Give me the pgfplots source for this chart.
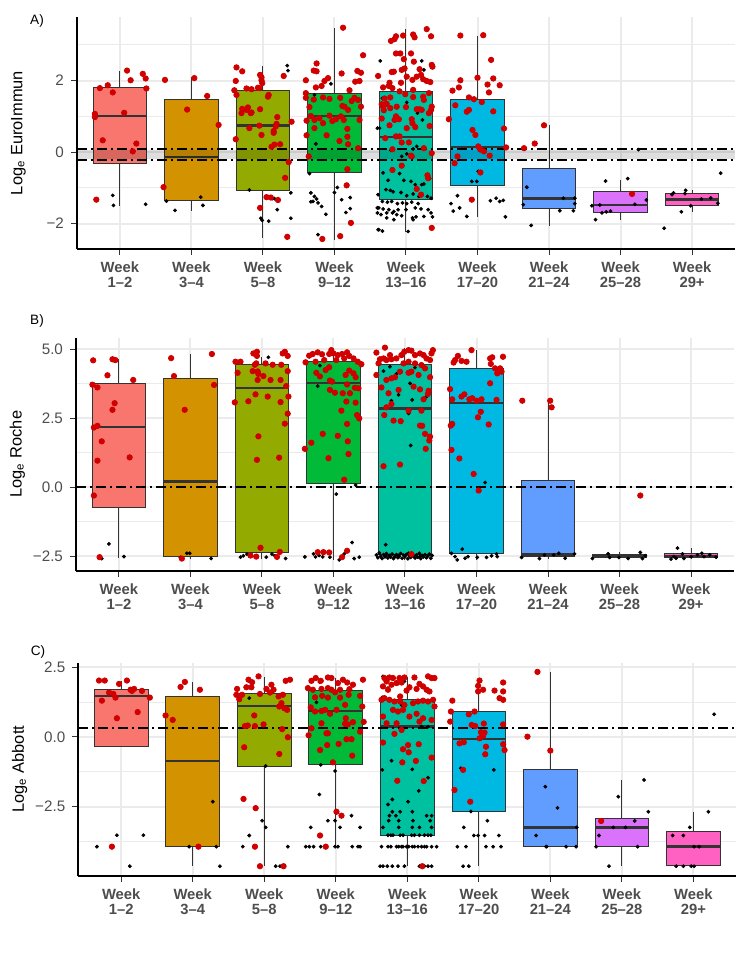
\documentclass[border=0pt]{standalone}
\usepackage{fontspec}
\setmainfont{Liberation Sans}
\usepackage{pgfplots}
\pgfplotsset{compat=1.18}
\usepgfplotslibrary{statistics}

\definecolor{c1}{HTML}{F8766D}
\definecolor{c2}{HTML}{D39200}
\definecolor{c3}{HTML}{93AA00}
\definecolor{c4}{HTML}{00BA38}
\definecolor{c5}{HTML}{00C19F}
\definecolor{c6}{HTML}{00B9E3}
\definecolor{c7}{HTML}{619CFF}
\definecolor{c8}{HTML}{DB72FB}
\definecolor{c9}{HTML}{FF61C3}
\definecolor{boxline}{HTML}{333333}
\definecolor{gridgrey}{HTML}{EBEBEB}
\definecolor{tickgrey}{HTML}{4D4D4D}
\definecolor{ptred}{HTML}{D00000}

% one box: position, lower whisker, q1, median, q3, upper whisker, colour
\newcommand{\bx}[7]{\addplot[boxplot prepared={draw position=#1, lower whisker=#2,
  lower quartile=#3, median=#4, upper quartile=#5, upper whisker=#6,
  box extend=0.75, whisker extend=0, draw direction=y,
  every median/.style={line width=1.2pt}}, draw=boxline, line width=0.5pt, fill=#7] coordinates {};}

\pgfplotsset{
  panel/.style={
    scale only axis, width=329pt,
    xmin=0.4, xmax=9.6,
    axis x line*=bottom, axis y line*=left,
    axis line style={line width=1pt, black, -},
    xtick={1,...,9},
    xticklabels={{Week\\1–2},{Week\\3–4},{Week\\5–8},{Week\\9–12},{Week\\13–16},
      {Week\\17–20},{Week\\21–24},{Week\\25–28},{Week\\29+}},
    xticklabel style={align=center, font=\fontsize{7.4}{7.6}\selectfont\bfseries, text=tickgrey},
    yticklabel style={font=\fontsize{7.6}{8}\selectfont, text=tickgrey},
    tick align=outside, major tick length=3pt, minor tick length=0pt,
    tick style={black!80, line width=0.5pt},
    grid=both,
    major grid style={draw=gridgrey, line width=1pt},
    minor grid style={draw=gridgrey, line width=0.5pt},
    ylabel style={font=\fontsize{8.2}{9}\selectfont, at={(axis description cs:-0.089,0.5)}, anchor=center},
    clip=false,
  },
  ddash/.style={black, line width=0.85pt, dash pattern=on 5pt off 2pt on 1pt off 2pt},
  redpt/.style={only marks, mark=*, mark size=1.35pt, color=ptred, mark options={draw=none}},
  blkpt/.style={only marks, mark=*, mark size=0.8pt, color=black, mark options={line width=0.3pt}},
}

\begin{document}
\begin{tikzpicture}
\path[use as bounding box] (0,0) rectangle (375pt,487.5pt);

% ---------------- A) EuroImmun
\begin{axis}[panel, at={(38.5pt,363pt)}, anchor=south west, height=116pt,
  ymin=-2.71, ymax=3.78, ytick={-2,0,2}, yticklabels={−2,0,2}, minor ytick={-1,1,3},
  ylabel={Log\textsubscript{e} EuroImmun}]
\bx{1}{-1.50}{-0.32}{1.01}{1.80}{2.27}{c1}
\bx{2}{-1.64}{-1.35}{-0.14}{1.47}{2.09}{c2}
\bx{3}{-2.39}{-1.07}{0.75}{1.73}{2.41}{c3}
\bx{4}{-2.45}{-0.58}{1.01}{1.63}{3.46}{c4}
\bx{5}{-2.23}{-1.33}{0.42}{1.70}{3.44}{c5}
\bx{6}{-1.82}{-0.94}{0.14}{1.47}{3.25}{c6}
\bx{7}{-2.06}{-1.58}{-1.30}{-0.45}{0.75}{c7}
\bx{8}{-1.90}{-1.69}{-1.48}{-1.09}{-0.78}{c8}
\bx{9}{-1.67}{-1.49}{-1.32}{-1.16}{-1.06}{c9}
\addplot[black, opacity=0.13, line width=4.8pt] coordinates {(0.4,-0.065) (9.6,-0.065)};
\addplot[ddash] coordinates {(0.4,0.09) (9.6,0.09)};
\addplot[ddash] coordinates {(0.4,-0.22) (9.6,-0.22)};
\addplot[blkpt] coordinates {
 (0.90,-1.21) (0.91,-1.49) (1.36,-1.46)
 (1.65,-1.37) (1.77,-1.63) (2.13,-1.26) (2.16,-1.49)
 (2.81,-1.06) (2.97,-1.85) (2.99,-1.91) (3.08,-1.93) (3.13,-1.30) (3.19,-1.34) (3.20,-1.61)
 (3.39,-1.14) (3.39,-1.85) (3.34,2.42) (3.35,2.28) (3.16,-1.30)
 (3.72,1.60) (3.95,1.91) (3.74,0.23) (3.65,-0.60) (3.67,-1.14) (3.70,-1.38) (3.72,-1.24)
 (3.75,-1.31) (3.77,-1.42) (3.82,-1.52) (3.88,-1.74) (4.00,-1.13) (4.04,-0.99) (4.10,-1.33)
 (4.18,-0.91) (4.22,-1.27) (4.22,-1.58) (4.16,-1.69) (3.77,-2.31) (3.67,-1.39)
 (4.64,2.55) (5.22,2.55) (5.25,2.30) (4.67,1.51) (5.01,1.39) (5.16,1.09) (5.23,0.90)
 (4.63,0.67) (5.15,0.16) (5.25,0.13) (5.10,0.09) (4.79,0.05) (5.01,-0.05) (4.94,-0.12)
 (4.68,-0.58) (4.91,-0.60) (4.75,-0.79) (4.97,-0.79) (5.07,-0.82) (5.13,-0.91) (5.22,-0.91)
 (5.25,-0.89) (5.33,-0.74) (4.72,-1.05) (4.78,-1.07) (4.82,-1.11) (4.93,-1.13) (5.01,-1.22)
 (5.10,-1.17) (5.18,-1.24) (5.30,-1.24) (5.35,-1.29) (4.67,-1.38) (4.74,-1.40) (4.80,-1.38)
 (4.88,-1.44) (4.95,-1.42) (5.01,-1.44) (5.08,-1.40) (5.17,-1.44) (4.62,-1.56) (4.68,-1.59)
 (4.76,-1.61) (4.83,-1.66) (4.89,-1.61) (5.00,-1.61) (5.13,-1.56) (5.21,-1.59) (5.31,-1.61)
 (5.35,-1.70) (4.60,-1.70) (4.65,-1.75) (4.73,-1.70) (4.81,-1.70) (4.87,-1.75) (4.94,-1.78)
 (5.09,-1.84) (5.14,-1.81) (5.25,-1.80) (5.37,-1.81) (4.61,-2.17) (4.67,-2.21) (5.03,-2.22)
 (4.83,-1.89) (5.10,-1.89) (4.73,-1.84) (4.60,0.67) (4.61,-1.19) (4.60,-1.56) (4.62,-2.17)
 (6.01,-0.54) (5.92,-0.82) (5.99,-0.82) (5.72,-1.22) (5.63,-1.44) (5.75,-1.56) (5.66,-1.65)
 (5.85,-1.80) (6.18,-1.36) (6.26,-1.29) (6.31,-1.38) (6.36,-1.35) (6.39,-1.81)
 (6.69,-0.98) (6.64,-1.47) (6.75,-2.05) (7.15,-1.64) (7.20,-1.29) (7.34,-1.64) (7.36,-1.44) (7.36,-1.29)
 (7.79,-0.81) (8.10,-0.74) (8.25,0.07) (7.60,-1.50) (7.71,-1.48) (7.65,-1.89) (7.74,-1.70)
 (7.80,-1.67) (7.86,-1.65) (8.20,-1.46) (8.36,-1.34)
 (8.74,-1.14) (8.90,-1.16) (8.91,-1.07) (9.13,-1.31) (9.26,-1.28) (9.36,-1.43) (8.85,-1.67)
 (8.98,-1.50) (8.61,-2.13) (9.40,-0.59) (8.72,-1.19)
};
\addplot[redpt] coordinates {
 (0.72,1.79) (0.83,1.87) (0.90,1.67) (1.10,2.28) (1.15,2.01) (1.32,2.19) (1.36,2.06) (1.37,1.78)
 (0.65,1.07) (0.65,0.98) (0.76,0.33) (1.06,1.10) (1.23,0.24) (1.18,0.02) (0.67,-1.33)
 (1.63,2.02) (2.04,2.07) (2.22,1.57) (1.94,1.19) (2.38,0.76) (1.61,-0.98)
 (2.63,2.37) (2.71,2.26) (2.62,1.99) (2.60,1.73) (2.63,1.60) (2.77,1.78) (2.84,1.76) (2.93,1.80)
 (2.96,2.16) (2.98,2.09) (2.98,2.01) (2.99,1.93) (2.95,1.79) (3.07,1.55) (3.08,1.60) (3.29,2.13)
 (2.71,1.21) (2.77,1.18) (2.79,1.25) (2.84,1.11) (2.81,0.67) (2.83,1.09) (2.96,1.20) (2.95,0.74)
 (2.98,0.48) (3.12,0.15) (3.16,0.21) (3.24,0.22) (3.19,0.79) (3.20,0.98) (3.18,0.72) (3.15,0.59)
 (3.15,0.54) (3.36,-0.28) (3.31,-0.72) (3.40,0.85) (2.62,0.36) (2.96,-1.56) (3.05,-1.26)
 (3.11,-1.27) (3.21,-1.34) (3.34,-2.37) (2.70,1.09)
 (4.12,3.48) (3.75,2.48) (3.71,2.28) (3.75,2.26) (3.60,2.01) (4.10,2.20) (4.40,2.71) (4.32,2.27)
 (4.37,2.22) (4.35,1.99) (4.29,1.97) (3.86,1.99) (3.91,2.07) (3.82,1.85) (3.74,1.81) (3.60,1.65)
 (3.60,1.52) (3.71,1.47) (3.84,1.53) (3.93,1.49) (4.08,1.52) (4.21,1.73) (4.24,1.43) (4.28,1.52)
 (4.33,1.46) (4.37,1.27) (4.14,1.27) (4.19,1.18) (4.11,1.29) (3.65,1.26) (3.67,1.01) (3.79,0.95)
 (3.72,0.90) (3.61,0.88) (3.93,1.02) (4.02,0.92) (4.09,1.00) (4.13,0.90) (4.35,0.90) (3.72,0.67)
 (3.84,0.81) (3.97,0.87) (4.18,0.65) (3.61,0.47) (3.89,0.47) (4.07,0.31) (4.18,0.43) (4.19,0.22)
 (3.64,-0.12) (4.18,-0.48) (4.17,-0.93) (4.23,-1.98) (3.83,-2.43) (4.08,-2.35) (4.33,0.11)
 (5.29,3.44) (5.10,3.29) (5.12,3.21) (4.96,3.26) (4.86,3.24) (4.79,3.11) (4.84,3.16) (5.35,3.24)
 (4.86,2.76) (4.92,2.76) (5.07,2.76) (4.97,2.60) (5.11,2.53) (5.36,2.44) (5.37,2.39) (4.83,2.25)
 (4.80,2.24) (4.94,2.30) (4.98,2.34) (5.19,2.32) (5.21,2.16) (5.24,2.04) (5.29,1.99) (5.34,1.96)
 (5.01,2.11) (5.15,2.11) (5.09,2.02) (4.93,1.94) (4.77,1.94) (4.76,1.85) (4.81,1.79) (4.68,1.81)
 (4.70,1.50) (4.66,1.34) (4.68,1.27) (4.73,1.35) (4.78,1.53) (4.91,1.70) (4.99,1.62) (5.10,1.74)
 (5.10,1.54) (5.24,1.55) (5.25,1.46) (5.32,1.65) (5.36,1.27) (5.35,1.18) (5.32,1.09) (5.19,1.20)
 (5.22,1.18) (5.15,1.20) (5.00,1.26) (4.87,1.27) (4.78,1.23) (4.69,1.17) (4.66,0.94) (4.86,1.00)
 (4.90,0.92) (4.84,0.90) (5.08,0.92) (5.09,0.81) (4.77,0.75) (5.01,0.67) (5.13,0.70) (5.33,0.73)
 (4.91,0.44) (4.71,0.39) (4.86,0.44) (4.61,2.13) (4.94,0.27) (4.81,0.08) (5.04,0.27) (5.25,0.11)
 (5.36,-0.03) (5.07,-0.10) (5.08,-0.12) (4.81,-0.50) (4.94,-0.38) (5.30,-0.65) (5.31,-0.73)
 (5.15,-1.03) (5.36,-2.12) (5.21,-1.19)
 (5.76,3.26) (6.08,3.27) (6.19,2.58) (6.00,2.08) (5.76,2.01) (5.74,1.81) (5.65,1.72) (6.22,2.06)
 (6.31,1.87) (6.14,1.89) (6.16,1.67) (5.88,1.53) (5.95,1.48) (6.06,1.40) (5.69,1.31) (5.85,1.13)
 (5.88,1.18) (6.22,1.14) (5.60,0.92) (5.93,0.62) (5.97,0.48) (6.37,0.66) (6.01,0.16) (6.04,0.07)
 (6.09,0.02) (6.17,-0.10) (6.40,0.13) (5.72,-0.12) (5.68,-0.31) (6.04,-0.57) (5.92,-1.33)
 (6.65,0.11) (6.80,0.24) (6.93,0.75)
 (8.16,-1.17)
};
\end{axis}

% ---------------- B) Roche
\begin{axis}[panel, at={(38pt,202.15pt)}, anchor=south west, height=116.5pt,
  ymin=-3.02, ymax=5.41, ytick={-2.5,0,2.5,5}, yticklabels={−2.5,0.0,2.5,5.0},
  minor ytick={-1.25,1.25,3.75}, ylabel={Log\textsubscript{e} Roche}]
\bx{1}{-2.57}{-0.74}{2.18}{3.74}{4.63}{c1}
\bx{2}{-2.60}{-2.52}{0.20}{3.95}{4.82}{c2}
\bx{3}{-2.60}{-2.35}{3.60}{4.43}{4.72}{c3}
\bx{4}{-2.65}{0.14}{3.78}{4.54}{4.96}{c4}
\bx{5}{-2.62}{-2.44}{2.85}{4.44}{5.05}{c5}
\bx{6}{-2.63}{-2.38}{3.04}{4.28}{4.96}{c6}
\bx{7}{-2.58}{-2.50}{-2.44}{0.26}{3.15}{c7}
\bx{8}{-2.60}{-2.56}{-2.50}{-2.42}{-2.36}{c8}
\bx{9}{-2.60}{-2.56}{-2.50}{-2.38}{-2.20}{c9}
\addplot[ddash] coordinates {(0.4,0) (9.6,0)};
\addplot[blkpt] coordinates {
 (0.86,-2.05) (0.76,-2.58) (1.07,-2.51)
 (1.86,-2.54) (1.95,-2.39) (1.99,-2.39) (2.29,-2.58)
 (3.09,4.70) (2.70,-2.53) (2.74,-2.48) (2.79,-2.42) (3.06,-2.53) (3.14,-2.42) (3.18,-2.48) (3.33,-2.58)
 (3.81,4.40) (3.78,3.66) (4.31,0.08) (4.04,-0.25) (3.60,-2.52) (3.72,-2.41) (3.75,-2.52) (3.80,-2.47)
 (3.85,-2.52) (3.95,-2.53) (4.08,-2.63) (4.15,-2.41) (4.26,-2.00) (4.29,-2.58) (4.36,-2.53)
 (4.70,4.20) (4.79,4.36) (4.88,4.10) (5.07,3.76) (5.14,4.33) (4.81,3.13) (4.91,3.34) (5.10,3.16)
 (5.30,3.28) (5.08,1.51) (5.05,2.67) (4.73,-2.08)
 (4.60,-2.45) (4.62,-2.55) (4.64,-2.38) (4.66,-2.50) (4.68,-2.58) (4.70,-2.44) (4.72,-2.52)
 (4.74,-2.40) (4.76,-2.56) (4.78,-2.47) (4.80,-2.53) (4.82,-2.42) (4.84,-2.58) (4.86,-2.49)
 (4.88,-2.44) (4.90,-2.55) (4.92,-2.51) (4.94,-2.40) (4.96,-2.57) (4.98,-2.46) (5.00,-2.52)
 (5.02,-2.43) (5.04,-2.59) (5.06,-2.48) (5.08,-2.54) (5.10,-2.41) (5.12,-2.50) (5.14,-2.56)
 (5.16,-2.45) (5.18,-2.53) (5.20,-2.39) (5.22,-2.58) (5.24,-2.47) (5.26,-2.52) (5.28,-2.44)
 (5.30,-2.55) (5.32,-2.49) (5.34,-2.42) (5.36,-2.57) (5.38,-2.47) (4.73,-2.47) (4.91,-2.47)
 (5.05,-2.39) (5.21,-2.50) (4.85,-2.53)
 (6.12,0.17) (5.80,-2.24) (5.73,-2.63) (5.84,-2.57) (6.01,-2.54) (6.14,-2.54) (6.21,-2.48)
 (6.28,-2.41) (5.70,-2.51) (5.65,-2.39) (5.88,-2.51) (6.29,-2.51)
 (6.63,-2.54) (6.88,-2.58) (6.95,-2.45) (7.08,-2.45) (7.15,-2.39) (7.24,-2.57) (7.37,-2.41)
 (7.62,-2.58) (7.84,-2.41) (7.86,-2.54) (7.99,-2.54) (8.12,-2.58) (8.29,-2.36) (8.32,-2.58) (8.36,-2.48)
 (8.81,-2.20) (8.72,-2.60) (8.79,-2.57) (8.88,-2.41) (8.90,-2.58) (9.00,-2.51) (9.09,-2.45)
 (9.15,-2.39) (9.18,-2.51) (9.26,-2.45) (9.35,-2.53) (8.76,-2.51)
};
\addplot[redpt] coordinates {
 (0.64,4.59) (0.91,4.63) (0.95,4.60) (0.84,4.05) (1.20,3.88) (0.63,3.71) (0.70,3.61) (0.94,3.04)
 (0.91,2.80) (0.70,2.22) (0.65,2.16) (0.76,1.66) (1.15,1.08) (0.70,0.96) (0.65,-0.30) (0.73,-2.53)
 (1.73,4.67) (1.77,4.02) (2.30,4.82) (2.33,3.70) (1.92,2.80) (1.88,-2.58)
 (2.63,4.54) (2.70,4.54) (2.66,4.14) (2.62,3.07) (2.81,3.11) (2.88,4.84) (2.93,4.90) (2.93,4.75)
 (2.92,4.48) (2.90,4.43) (2.87,4.20) (2.94,4.19) (2.95,4.10) (3.02,4.02) (2.94,3.88) (3.12,3.88)
 (3.05,4.48) (3.15,4.43) (2.91,3.36) (3.08,3.28) (3.26,3.88) (3.34,3.66) (3.26,3.08) (3.37,3.28)
 (3.36,2.66) (3.32,2.30) (2.95,1.84) (2.93,0.99) (3.24,1.07) (3.29,4.84) (3.32,4.90) (3.36,4.75)
 (3.36,4.20) (3.27,4.43) (2.98,-2.19) (2.92,-2.51) (2.84,-2.47) (3.21,-2.52) (3.25,-2.34)
 (3.61,4.52) (3.66,4.76) (3.78,4.88) (3.75,4.54) (3.71,4.82) (3.84,4.81) (3.94,4.82) (3.97,4.96)
 (4.00,4.84) (4.06,4.78) (4.12,4.82) (4.19,4.88) (4.22,4.75) (4.28,4.66) (4.34,4.54) (4.39,4.45)
 (4.15,4.66) (4.04,4.60) (3.87,4.60) (3.76,4.14) (3.81,4.01) (3.89,4.24) (3.94,4.34) (3.95,3.86)
 (3.98,3.82) (3.95,3.52) (4.02,3.42) (4.13,3.40) (4.23,3.40) (4.19,3.72) (4.22,4.22) (4.17,4.06)
 (4.30,3.60) (4.28,4.12) (4.31,3.98) (4.35,3.58) (4.33,2.61) (4.36,2.49) (4.31,3.06) (4.18,3.10)
 (4.11,2.77) (4.19,2.29) (4.06,1.86) (3.85,1.93) (3.69,1.61) (3.60,1.39) (3.93,1.05) (4.20,1.66)
 (4.21,1.20) (4.15,0.27) (3.78,-2.35) (3.86,-2.35) (3.94,-2.36) (4.19,-2.30) (4.12,-2.53)
 (4.72,5.05) (4.60,4.87) (4.65,4.63) (4.70,4.66) (4.74,4.60) (4.79,4.78) (4.81,4.63) (4.88,4.66)
 (4.95,4.78) (4.99,4.90) (5.05,4.96) (5.09,4.94) (5.14,4.78) (5.21,4.84) (5.26,4.78) (5.30,4.66)
 (5.35,4.60) (5.39,4.96) (5.37,4.84) (5.05,4.54) (4.98,4.48) (5.14,4.48) (5.23,4.42) (4.63,4.48)
 (4.60,4.06) (4.74,3.88) (4.81,3.94) (4.86,3.98) (4.93,4.18) (5.05,4.14) (5.09,4.18) (5.19,4.06)
 (5.28,4.30) (5.35,3.98) (4.67,3.61) (4.77,3.40) (4.91,3.52) (5.12,3.64) (5.21,3.54) (5.33,3.49)
 (5.32,3.37) (5.26,3.18) (4.81,3.01) (4.74,2.89) (4.71,2.61) (5.05,2.77) (5.23,2.77) (4.84,2.41)
 (4.94,2.39) (5.21,2.23) (5.24,2.22) (5.28,1.93) (5.35,1.83) (5.34,1.69) (5.29,1.39) (4.70,0.76)
 (4.93,0.82) (5.09,-2.42)
 (5.93,4.96) (5.74,4.75) (5.70,4.60) (5.68,4.51) (5.79,4.57) (5.86,4.54) (6.19,4.66) (6.22,4.70)
 (6.37,4.72) (6.20,4.46) (6.26,4.30) (6.33,4.30) (6.29,4.12) (6.35,4.18) (6.19,3.76) (5.63,3.55)
 (5.66,3.18) (5.79,3.28) (5.83,3.36) (5.90,3.18) (5.94,3.22) (6.00,3.13) (6.07,3.18) (6.28,3.16)
 (6.02,2.53) (6.06,2.73) (6.17,2.27) (5.64,2.23) (5.66,2.29) (5.65,1.35) (5.76,1.04) (5.96,0.48)
 (6.03,-0.12)
 (6.64,3.13) (7.03,3.13) (7.05,2.89)
 (8.29,-0.30)
};
\end{axis}

% ---------------- C) Abbott
\begin{axis}[panel, at={(39.15pt,49.65pt)}, anchor=south west, height=106.5pt,
  ymin=-4.97, ymax=2.66, ytick={-2.5,0,2.5}, yticklabels={−2.5,0.0,2.5},
  minor ytick={-3.75,-1.25,1.25}, ylabel={Log\textsubscript{e} Abbott}]
\bx{1}{-0.36}{-0.36}{1.47}{1.71}{2.02}{c1}
\bx{2}{-4.62}{-3.92}{-0.86}{1.44}{1.96}{c2}
\bx{3}{-4.62}{-1.06}{1.10}{1.54}{2.16}{c3}
\bx{4}{-3.92}{-0.98}{0.93}{1.66}{2.10}{c4}
\bx{5}{-4.62}{-3.52}{0.38}{1.35}{2.16}{c5}
\bx{6}{-4.62}{-2.66}{-0.08}{0.92}{1.95}{c6}
\bx{7}{-3.93}{-3.93}{-3.24}{-1.15}{2.33}{c7}
\bx{8}{-4.62}{-3.93}{-3.24}{-2.93}{-1.54}{c8}
\bx{9}{-4.62}{-4.62}{-3.93}{-3.37}{-2.68}{c9}
\addplot[ddash] coordinates {(0.4,0.33) (9.6,0.33)};
\addplot[blkpt] coordinates {
 (0.66,-3.93) (0.94,-3.52) (1.31,-3.52) (1.12,-4.63)
 (1.95,-3.93) (2.33,-3.93) (2.28,-2.32) (2.38,-4.63)
 (2.79,1.39) (3.02,-1.04) (2.97,-3.00) (3.02,-3.24) (2.79,-3.53) (2.70,-3.93) (3.33,-3.93)
 (3.16,-4.63) (3.22,-4.63)
 (3.77,1.97) (3.73,1.24) (3.79,-1.00) (3.99,-1.22) (3.77,-2.06) (3.89,-3.00) (3.99,-3.00)
 (4.22,-2.82) (3.65,-3.24) (4.06,-3.24) (4.34,-3.24) (3.58,-3.93) (3.63,-3.93) (3.69,-3.93)
 (3.79,-3.93) (3.99,-3.93) (4.03,-3.93) (4.23,-3.93) (4.31,-3.93) (4.34,-3.93)
 (4.66,2.17) (4.96,1.99) (4.73,1.75) (4.65,1.42) (4.92,1.15) (5.20,0.37) (5.29,0.37)
 (4.65,-1.18) (4.78,-0.85) (5.07,-1.16) (5.29,-1.46) (5.16,-1.93) (4.73,-2.42) (4.79,-2.24)
 (5.01,-2.32) (4.79,-2.68) (4.90,-2.68) (5.07,-2.68) (4.75,-2.82) (4.84,-2.82) (5.27,-2.82)
 (5.34,-2.82) (4.74,-3.00) (4.88,-3.00) (5.08,-3.00) (5.32,-3.00) (4.66,-3.24) (4.88,-3.24)
 (5.07,-3.24) (5.17,-3.24) (5.34,-3.24)
 (4.73,-3.52) (4.77,-3.52) (4.80,-3.52) (4.90,-3.52) (4.94,-3.52) (5.06,-3.52) (5.10,-3.52)
 (5.17,-3.52) (5.24,-3.52) (5.29,-3.52) (5.33,-3.52)
 (4.64,-3.93) (4.73,-3.93) (4.77,-3.93) (4.85,-3.93) (4.88,-3.93) (4.92,-3.93) (4.94,-3.93)
 (4.99,-3.93) (5.02,-3.93) (5.07,-3.93) (5.10,-3.93) (5.15,-3.93) (5.20,-3.93) (5.24,-3.93)
 (5.27,-3.93) (5.34,-3.93) (5.41,-3.93)
 (4.62,-4.63) (4.66,-4.63) (4.72,-4.63) (4.79,-4.63) (4.87,-4.63) (4.96,-4.63) (5.17,-4.63)
 (5.24,-4.63) (5.29,-4.63) (5.34,-4.63)
 (5.75,-1.12) (6.21,-1.18) (5.89,-2.67) (6.12,-3.00) (5.79,-3.24) (5.93,-3.53) (5.99,-3.53)
 (6.08,-3.53) (6.28,-3.53) (5.70,-3.93) (5.82,-3.93) (6.10,-3.93) (6.20,-3.93) (6.31,-3.93)
 (5.78,-4.63) (5.86,-4.63)
 (6.93,-1.78) (7.10,-2.54) (6.80,-3.53) (6.94,-3.93) (6.95,-3.93) (7.22,-3.93) (7.36,-3.93) (7.37,-3.24)
 (7.68,-3.53) (7.64,-3.93) (7.82,-4.63) (7.88,-3.24) (8.05,-3.24) (8.18,-3.01) (8.22,-3.93)
 (7.95,-2.14) (8.31,-1.54) (8.37,-2.68)
 (8.71,-3.53) (8.86,-3.53) (8.95,-3.24) (9.01,-3.93) (9.08,-3.93) (8.76,-4.63) (8.86,-4.63)
 (8.97,-4.63) (9.01,-4.63) (9.21,-2.68) (9.29,0.81)
};
\addplot[redpt] coordinates {
 (0.69,2.02) (0.77,2.02) (0.97,1.90) (1.08,2.02) (0.83,1.59) (0.89,1.54) (0.92,1.41) (0.73,1.30)
 (1.13,1.69) (1.18,1.72) (1.15,1.65) (1.29,1.65) (1.40,1.41) (0.94,0.67) (1.23,0.89) (0.87,-3.93)
 (1.89,1.97) (1.83,1.79) (2.10,1.69) (1.62,0.77) (1.72,0.61) (2.08,-3.93)
 (2.78,2.05) (2.83,1.96) (2.92,2.17) (2.62,1.72) (2.61,1.51) (2.65,1.35) (2.69,1.51) (2.75,1.78)
 (2.82,1.78) (2.94,1.54) (3.03,1.72) (3.10,1.87) (3.13,1.69) (3.08,1.59) (3.20,1.45) (3.26,1.51)
 (3.30,2.01) (3.36,2.05) (3.32,0.97) (3.24,1.21) (3.21,1.09) (3.28,1.03) (2.73,0.39) (2.87,0.39)
 (2.77,0.41) (2.99,0.45) (2.86,0.77) (3.25,0.28) (2.72,-0.37) (3.21,-0.61) (3.33,-0.01)
 (2.71,-2.22) (2.88,-2.55) (2.87,-3.93) (2.94,-4.63) (3.27,-4.63)
 (3.66,2.01) (3.72,2.11) (3.79,2.01) (3.89,2.13) (3.94,2.11) (4.03,1.93) (4.10,2.05) (4.16,1.95)
 (4.24,1.87) (4.38,2.05) (3.61,1.75) (3.68,1.69) (3.80,1.72) (3.89,1.75) (3.94,1.69) (3.99,1.60)
 (4.06,1.69) (4.19,1.71) (3.71,1.42) (3.81,1.47) (3.89,1.41) (4.06,1.41) (4.13,1.15) (4.18,1.51)
 (4.34,1.47) (4.37,1.09) (3.65,1.06) (3.71,0.91) (3.80,0.93) (3.85,0.97) (3.92,0.83) (4.01,0.97)
 (4.14,0.67) (4.24,0.53) (4.39,0.54) (3.66,0.31) (3.80,0.49) (4.13,0.47) (4.17,0.45) (3.62,0.06)
 (3.87,0.13) (3.89,0.13) (4.15,-0.08) (4.22,-0.08) (4.34,0.19) (3.78,-0.47) (3.88,-0.29)
 (4.04,-0.25) (4.23,-0.67) (3.96,-0.91) (4.01,-2.68) (4.08,-2.82) (3.78,-3.53) (3.86,-3.93)
 (4.68,2.11) (4.75,2.13) (4.80,2.11) (4.89,2.11) (4.96,2.13) (5.10,2.13) (5.29,2.17) (5.34,2.11)
 (5.38,2.11) (4.71,1.99) (4.78,1.87) (4.85,1.93) (4.92,1.95) (5.03,1.78) (5.13,1.72) (5.17,1.90)
 (5.22,1.81) (5.27,1.69) (5.31,1.63) (4.73,1.69) (4.66,1.81) (4.64,1.33) (4.68,1.39) (4.75,1.33)
 (4.82,1.27) (4.90,1.27) (4.96,1.15) (5.08,1.21) (5.15,1.27) (5.22,1.30) (5.29,1.27) (5.36,1.33)
 (5.38,1.09) (4.80,0.97) (4.87,0.91) (4.94,0.97) (5.03,0.73) (5.13,0.83) (5.22,0.67) (5.34,0.61)
 (4.66,0.73) (4.71,0.49) (4.85,0.49) (5.17,0.55) (4.82,0.11) (4.92,0.25) (4.66,-0.20) (5.01,-0.29)
 (4.94,-0.44) (5.02,-0.55) (4.93,-0.91) (5.16,-0.26) (5.12,-0.86) (5.34,-0.74) (4.86,-1.57)
 (5.23,-1.58) (5.21,-4.63) (4.90,1.45) (4.99,1.66)
 (6.01,2.02) (5.99,1.83) (5.99,1.63) (6.06,1.69) (6.22,1.66) (6.34,1.95) (6.34,1.63) (6.29,1.39)
 (6.34,1.33) (5.63,1.30) (5.61,0.91) (5.60,0.55) (5.86,0.81) (5.94,0.91) (5.90,0.43) (5.95,0.39)
 (6.07,0.48) (6.34,0.45) (5.79,-0.19) (5.73,-0.23) (6.03,0.17) (6.08,0.16) (6.06,0.04) (6.01,-0.05)
 (6.10,-0.35) (6.09,-0.62) (6.34,-0.26) (6.36,-0.47) (5.78,-1.18) (5.66,-1.90) (5.88,-2.32)
 (6.82,2.33) (6.68,0.01) (7.00,-0.49)
 (7.71,-3.01)
};
\end{axis}

\node[font=\fontsize{6.8}{8}\selectfont] at (18.5pt,477pt) {A)};
\node[font=\fontsize{6.8}{8}\selectfont] at (18.5pt,327.25pt) {B)};
\node[font=\fontsize{6.8}{8}\selectfont] at (19pt,161.5pt) {C)};
\end{tikzpicture}
\end{document}
